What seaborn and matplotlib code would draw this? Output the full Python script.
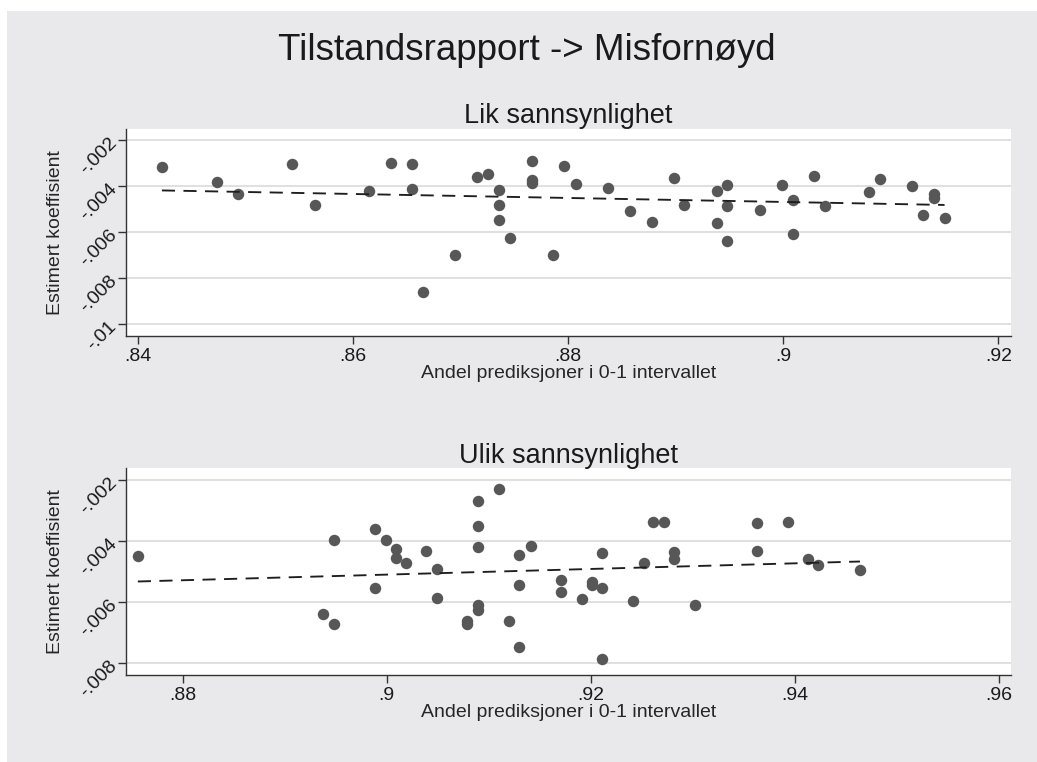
import numpy as np
import pandas as pd
import seaborn as sns
import matplotlib.pyplot as plt
from matplotlib.ticker import FuncFormatter
from matplotlib.patches import Rectangle

# ---------- data ----------
lik_x = [0.8422, 0.8473, 0.8493, 0.8543, 0.8564, 0.8615, 0.8635, 0.8655, 0.8655, 0.8665,
         0.8695, 0.8715, 0.8725, 0.8736, 0.8736, 0.8736, 0.8746, 0.8766, 0.8766, 0.8766,
         0.8786, 0.8796, 0.8807, 0.8837, 0.8857, 0.8878, 0.8898, 0.8908, 0.8938, 0.8938,
         0.8948, 0.8948, 0.8948, 0.8978, 0.8999, 0.9009, 0.9009, 0.9029, 0.9039, 0.9080,
         0.9090, 0.9120, 0.9130, 0.9140, 0.9140, 0.9150]
lik_y = [-0.00316, -0.00384, -0.00436, -0.00306, -0.00483, -0.00420, -0.00300, -0.00306, -0.00414, -0.00861,
         -0.00700, -0.00361, -0.00348, -0.00416, -0.00481, -0.00547, -0.00625, -0.00290, -0.00374, -0.00386,
         -0.00699, -0.00314, -0.00390, -0.00409, -0.00509, -0.00555, -0.00365, -0.00483, -0.00420, -0.00560,
         -0.00394, -0.00487, -0.00639, -0.00503, -0.00394, -0.00462, -0.00609, -0.00355, -0.00488, -0.00426,
         -0.00370, -0.00399, -0.00526, -0.00436, -0.00451, -0.00541]

ulik_x = [0.8756, 0.8948, 0.8938, 0.8948, 0.8989, 0.8989, 0.8999, 0.9009, 0.9009, 0.9019,
          0.9039, 0.9049, 0.9049, 0.9079, 0.9079, 0.9090, 0.9090, 0.9090, 0.9090, 0.9090,
          0.9110, 0.9120, 0.9130, 0.9130, 0.9130, 0.9141, 0.9171, 0.9171, 0.9191, 0.9201,
          0.9201, 0.9211, 0.9211, 0.9211, 0.9241, 0.9252, 0.9261, 0.9272, 0.9282, 0.9282,
          0.9302, 0.9363, 0.9363, 0.9393, 0.9413, 0.9423, 0.9464]
ulik_y = [-0.00449, -0.00398, -0.00639, -0.00673, -0.00361, -0.00554, -0.00397, -0.00425, -0.00456, -0.00472,
          -0.00434, -0.00493, -0.00587, -0.00661, -0.00672, -0.00268, -0.00352, -0.00420, -0.00609, -0.00627,
          -0.00231, -0.00663, -0.00447, -0.00544, -0.00748, -0.00417, -0.00528, -0.00568, -0.00591, -0.00533,
          -0.00544, -0.00440, -0.00554, -0.00786, -0.00598, -0.00472, -0.00337, -0.00338, -0.00436, -0.00458,
          -0.00610, -0.00341, -0.00432, -0.00338, -0.00458, -0.00479, -0.00495]

lik_xticks = [0.84, 0.86, 0.88, 0.90, 0.92]
lik_yticks = [-0.010, -0.008, -0.006, -0.004, -0.002]
ulik_xticks = [0.88, 0.90, 0.92, 0.94, 0.96]
ulik_yticks = [-0.008, -0.006, -0.004, -0.002]

title = "Tilstandsrapport -> Misfornøyd"
sub_titles = ["Lik sannsynlighet", "Ulik sannsynlighet"]
xlab = "Andel prediksjoner i 0-1 intervallet"
ylab = "Estimert koeffisient"

# ---------- style ----------
sns.set_theme(style="white")
plt.rcParams['font.family'] = ['Liberation Sans', 'DejaVu Sans']
plt.rcParams['text.color'] = '#1a1a1a'

BG = '#e9e9ec'
DOT = '#575757'


def stata_fmt(v, pos):
    s = f"{round(v, 4):.3f}".rstrip('0').rstrip('.')
    return s.replace('0.', '.', 1)


fig = plt.figure(figsize=(10.37, 7.62), dpi=100, facecolor='white')
fig.patches.append(Rectangle((7 / 1037, 0), 1, 1 - 11 / 762, transform=fig.transFigure,
                             facecolor=BG, edgecolor='none', zorder=-10))

ax1 = fig.add_axes([126 / 1037, 1 - 335.7 / 762, 884.7 / 1037, 206.7 / 762])
ax2 = fig.add_axes([126 / 1037, 1 - 675 / 762, 884.7 / 1037, 206.7 / 762])

panels = [
    (ax1, lik_x, lik_y, lik_xticks, lik_yticks, (0.83886, 0.92115), (-0.01051, -0.00152)),
    (ax2, ulik_x, ulik_y, ulik_xticks, ulik_yticks, (0.87444, 0.96118), (-0.00839, -0.00162)),
]

for i, (ax, xs, ys, xt, yt, xl, yl) in enumerate(panels):
    df = pd.DataFrame({'x': xs, 'y': ys})
    ax.set_facecolor('white')
    sns.regplot(data=df, x='x', y='y', ax=ax, ci=None,
                scatter_kws=dict(s=68, color=DOT, alpha=1, linewidths=0, zorder=3),
                line_kws=dict(color='#1e1e1e', lw=1.35, dashes=(7, 4.5), zorder=4))
    ax.set_xlim(xl)
    ax.set_ylim(yl)
    ax.set_xticks(xt)
    ax.set_yticks(yt)
    ax.xaxis.set_major_formatter(FuncFormatter(stata_fmt))
    ax.yaxis.set_major_formatter(FuncFormatter(stata_fmt))
    for y in yt:
        ax.axhline(y, color='#e0e0e0', lw=1.4, zorder=1)
    for side in ['top', 'right']:
        ax.spines[side].set_visible(False)
    for side in ['left', 'bottom']:
        ax.spines[side].set_color('#333333')
        ax.spines[side].set_linewidth(1.0)
    ax.tick_params(axis='both', direction='out', length=5.5, width=1.0, color='#333333',
                   labelsize=14, labelcolor='#1a1a1a', pad=3, bottom=True, left=True)
    for lab in ax.get_yticklabels():
        lab.set_rotation(45)
        lab.set_rotation_mode('anchor')
        lab.set_ha('right')
        lab.set_va('center')
    ax.set_xlabel(xlab, fontsize=14, labelpad=0)
    ax.set_ylabel(ylab, fontsize=14)
    ax.yaxis.set_label_coords(-0.070, 0.5)
    ax.set_title(sub_titles[i], fontsize=19.5, pad=4)

fig.text(527 / 1037, 1 - 50 / 762, title, fontsize=26.5, ha='center', va='center')

plt.savefig("out.png", dpi=100, facecolor=fig.get_facecolor())
